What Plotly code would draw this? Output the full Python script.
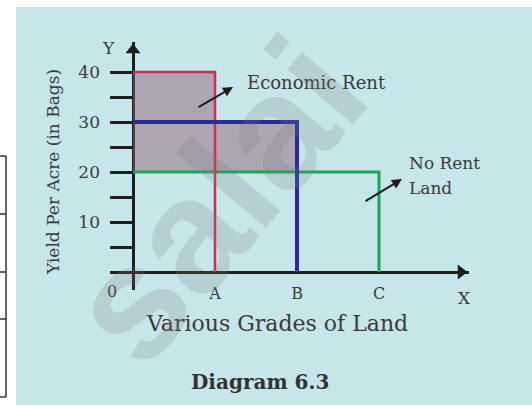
import plotly.graph_objects as go

# ---------------- data ----------------
grades = ["A", "B", "C"]
grade_pos = [1, 2, 3]
yield_bags = [40, 30, 20]
grade_colors = ["#cf2f4e", "#2a2a9a", "#1fa453"]
grade_widths = [2.5, 4, 3]
y_tick_vals = [5, 10, 15, 20, 25, 30, 35, 40]
y_tick_text = ["", "10", "", "20", "", "30", "", "40"]
no_rent_yield = min(yield_bags)

# ---------------- geometry (pixels) ----------------
W, H = 532, 405
OX, OY = 133, 272          # origin pixel
SX, SY = 82, 5             # pixels per unit
LEFT, RIGHT, TOP, BOTTOM = 110, 469, 42, 290   # axis extents in px


def px_x(v):
    return (v - OX) / SX


def px_y(v):
    return (OY - v) / SY


def paper_x(p):
    return p / W


def paper_y(p):
    return (H - p) / H


TXT = "#3a3a3a"
AX = "#1e1e1e"
SERIF = "DejaVu Serif"

fig = go.Figure()

# economic-rent shaded area built from the data
sx, sy = [0], [no_rent_yield]
prev = 0
for p, yv in zip(grade_pos, yield_bags):
    if yv > no_rent_yield:
        sx += [prev, p]
        sy += [yv, yv]
        prev = p
sx += [prev]
sy += [no_rent_yield]
fig.add_trace(go.Scatter(x=sx, y=sy, mode="lines", fill="toself",
                         fillcolor="rgba(146,100,122,0.5)",
                         line=dict(width=0), hoverinfo="skip", showlegend=False))

# grade rectangles (C first so A and B sit on top)
for i in [2, 0, 1]:
    p, yv = grade_pos[i], yield_bags[i]
    fig.add_trace(go.Scatter(x=[0, p, p], y=[yv, yv, 0], mode="lines",
                             line=dict(color=grade_colors[i], width=grade_widths[i]),
                             name=grades[i], showlegend=False))

# axis arrowheads
fig.add_trace(go.Scatter(x=[0], y=[px_y(TOP + 8)], mode="markers",
                         marker=dict(symbol="triangle-up", size=13, color=AX),
                         cliponaxis=False, hoverinfo="skip", showlegend=False))
fig.add_trace(go.Scatter(x=[px_x(RIGHT - 8)], y=[0], mode="markers",
                         marker=dict(symbol="triangle-right", size=13, color=AX),
                         cliponaxis=False, hoverinfo="skip", showlegend=False))

# invisible trace for the A/B/C label axis
fig.add_trace(go.Scatter(x=grade_pos, y=[0] * len(grade_pos), xaxis="x2",
                         mode="markers", marker=dict(opacity=0),
                         hoverinfo="skip", showlegend=False))


def ptxt(xp, yp, text, size, **kw):
    d = dict(x=paper_x(xp), y=paper_y(yp), xref="paper", yref="paper",
             text=text, showarrow=False, xanchor="center", yanchor="middle",
             font=dict(family=SERIF, size=size, color=kw.pop("color", TXT)))
    d.update(kw)
    return d


ann = []
ann.append(ptxt(108, 48, "Y", 17))
ann.append(ptxt(464, 298, "X", 17))
ann.append(ptxt(112, 291, "0", 16))
ann.append(ptxt(245, 82, "Economic Rent", 18, xanchor="left"))
ann.append(ptxt(407, 163, "No Rent", 17, xanchor="left"))
ann.append(ptxt(407, 188, "Land", 17, xanchor="left"))
ann.append(ptxt(53, 172, "Yield Per Acre (in Bags)", 17, textangle=-90))
ann.append(ptxt(277, 323, "Various Grades of Land", 22))
ann.append(ptxt(260, 382, "<b>Diagram 6.3</b>", 20, color="#333333"))

# callout arrows
ann.append(dict(x=px_x(233), y=px_y(87), ax=px_x(197), ay=px_y(108),
                axref="x", ayref="y", text="", showarrow=True,
                arrowhead=2, arrowsize=1, arrowwidth=2, arrowcolor=AX))
ann.append(dict(x=px_x(402), y=px_y(179), ax=px_x(364), ay=px_y(202),
                axref="x", ayref="y", text="", showarrow=True,
                arrowhead=2, arrowsize=1, arrowwidth=2, arrowcolor=AX))

# watermark
ann.append(dict(x=paper_x(215), y=paper_y(200), xref="paper", yref="paper",
                text="<b>salai</b>", textangle=-50, showarrow=False,
                xanchor="center", yanchor="middle",
                font=dict(family="Liberation Sans", size=162,
                          color="rgba(128,128,128,0.22)")))

shapes = [
    dict(type="rect", xref="paper", yref="paper", x0=paper_x(16), x1=1,
         y0=0, y1=paper_y(7), fillcolor="#c6e6ea", line=dict(width=0),
         layer="below"),
    dict(type="line", xref="paper", yref="paper", x0=paper_x(6), x1=paper_x(6),
         y0=paper_y(156), y1=paper_y(397), line=dict(color="#333", width=1.5)),
]
for yy in [156, 214, 272, 319, 397]:
    shapes.append(dict(type="line", xref="paper", yref="paper", x0=0,
                       x1=paper_x(6), y0=paper_y(yy), y1=paper_y(yy),
                       line=dict(color="#333", width=1.5)))

fig.update_layout(
    width=W, height=H,
    margin=dict(l=0, r=0, t=0, b=0),
    paper_bgcolor="white",
    plot_bgcolor="rgba(0,0,0,0)",
    showlegend=False,
    xaxis=dict(domain=[paper_x(LEFT), paper_x(RIGHT)],
               range=[px_x(LEFT), px_x(RIGHT)],
               showgrid=False, showticklabels=False, ticks="",
               zeroline=True, zerolinecolor=AX, zerolinewidth=3,
               showline=False, fixedrange=True),
    xaxis2=dict(overlaying="x", anchor="free", position=paper_y(282),
                range=[px_x(LEFT), px_x(RIGHT)],
                tickvals=grade_pos, ticktext=grades, ticks="",
                showgrid=False, zeroline=False, showline=False,
                tickfont=dict(family=SERIF, size=16, color=TXT)),
    yaxis=dict(domain=[paper_y(BOTTOM), paper_y(TOP)],
               range=[px_y(BOTTOM), px_y(TOP)],
               showgrid=False, zeroline=True, zerolinecolor=AX,
               zerolinewidth=3, showline=False,
               tickvals=y_tick_vals, ticktext=y_tick_text,
               ticks="inside", ticklen=23, tickwidth=3, tickcolor=AX,
               ticklabelstandoff=9,
               tickfont=dict(family=SERIF, size=17, color=TXT),
               fixedrange=True),
    annotations=ann,
    shapes=shapes,
)

fig.write_html("out.html",
               config={"displayModeBar": False},
               post_script="document.body.style.margin='0px';")
